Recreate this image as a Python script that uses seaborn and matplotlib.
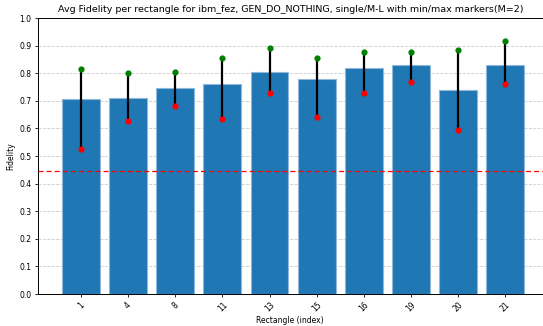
import matplotlib
matplotlib.use("Agg")
import matplotlib.pyplot as plt
import seaborn as sns
import pandas as pd

rectangles = ["1", "4", "8", "11", "13", "15", "16", "19", "20", "21"]
avg_fidelity = [0.705, 0.709, 0.746, 0.761, 0.803, 0.778, 0.818, 0.830, 0.739, 0.830]
max_fidelity = [0.814, 0.800, 0.806, 0.854, 0.890, 0.854, 0.876, 0.876, 0.883, 0.916]
min_fidelity = [0.524, 0.627, 0.681, 0.634, 0.729, 0.643, 0.729, 0.767, 0.594, 0.760]
threshold = 0.444

df = pd.DataFrame({"rect": rectangles, "avg": avg_fidelity,
                   "lo": min_fidelity, "hi": max_fidelity})

fig = plt.figure(figsize=(5.43, 3.26), dpi=100)
ax = fig.add_axes([37.5 / 543, 1 - 294 / 326, (543 - 37.5) / 543, (294 - 18) / 326])

sns.barplot(data=df, x="rect", y="avg", order=rectangles, color="#1f77b4",
            saturation=1, width=0.8, edgecolor="#8fb8da", linewidth=0.8,
            errorbar=None, ax=ax, zorder=2)

for i, row in df.iterrows():
    ax.plot([i, i], [row["lo"], row["hi"]], color="black", lw=1.6, zorder=3)
ax.scatter(range(len(df)), df["hi"], color="green", s=12, zorder=4)
ax.scatter(range(len(df)), df["lo"], color="red", s=12, zorder=4)

ax.axhline(threshold, color="red", ls=(0, (4, 2.5)), lw=0.9, zorder=5)

ax.set_ylim(0, 1.0)
ax.set_xlim(-0.92, 9.8)
ax.set_yticks([i / 10 for i in range(11)])
ax.yaxis.grid(True, ls="--", color="#cccccc", lw=0.6)
ax.set_axisbelow(True)

ax.tick_params(axis="both", labelsize=5.5, length=2.5, width=0.6, pad=2)
plt.setp(ax.get_xticklabels(), rotation=45)
ax.set_xlabel("Rectangle (index)", fontsize=5.5, labelpad=2)
ax.set_ylabel("Fidelity", fontsize=5.5, labelpad=3)
ax.set_title("Avg Fidelity per rectangle for ibm_fez, GEN_DO_NOTHING, single/M-L with min/max markers(M=2)",
             fontsize=6.8, pad=4)
for s in ax.spines.values():
    s.set_linewidth(0.7)

fig.savefig("out.png", dpi=100)
